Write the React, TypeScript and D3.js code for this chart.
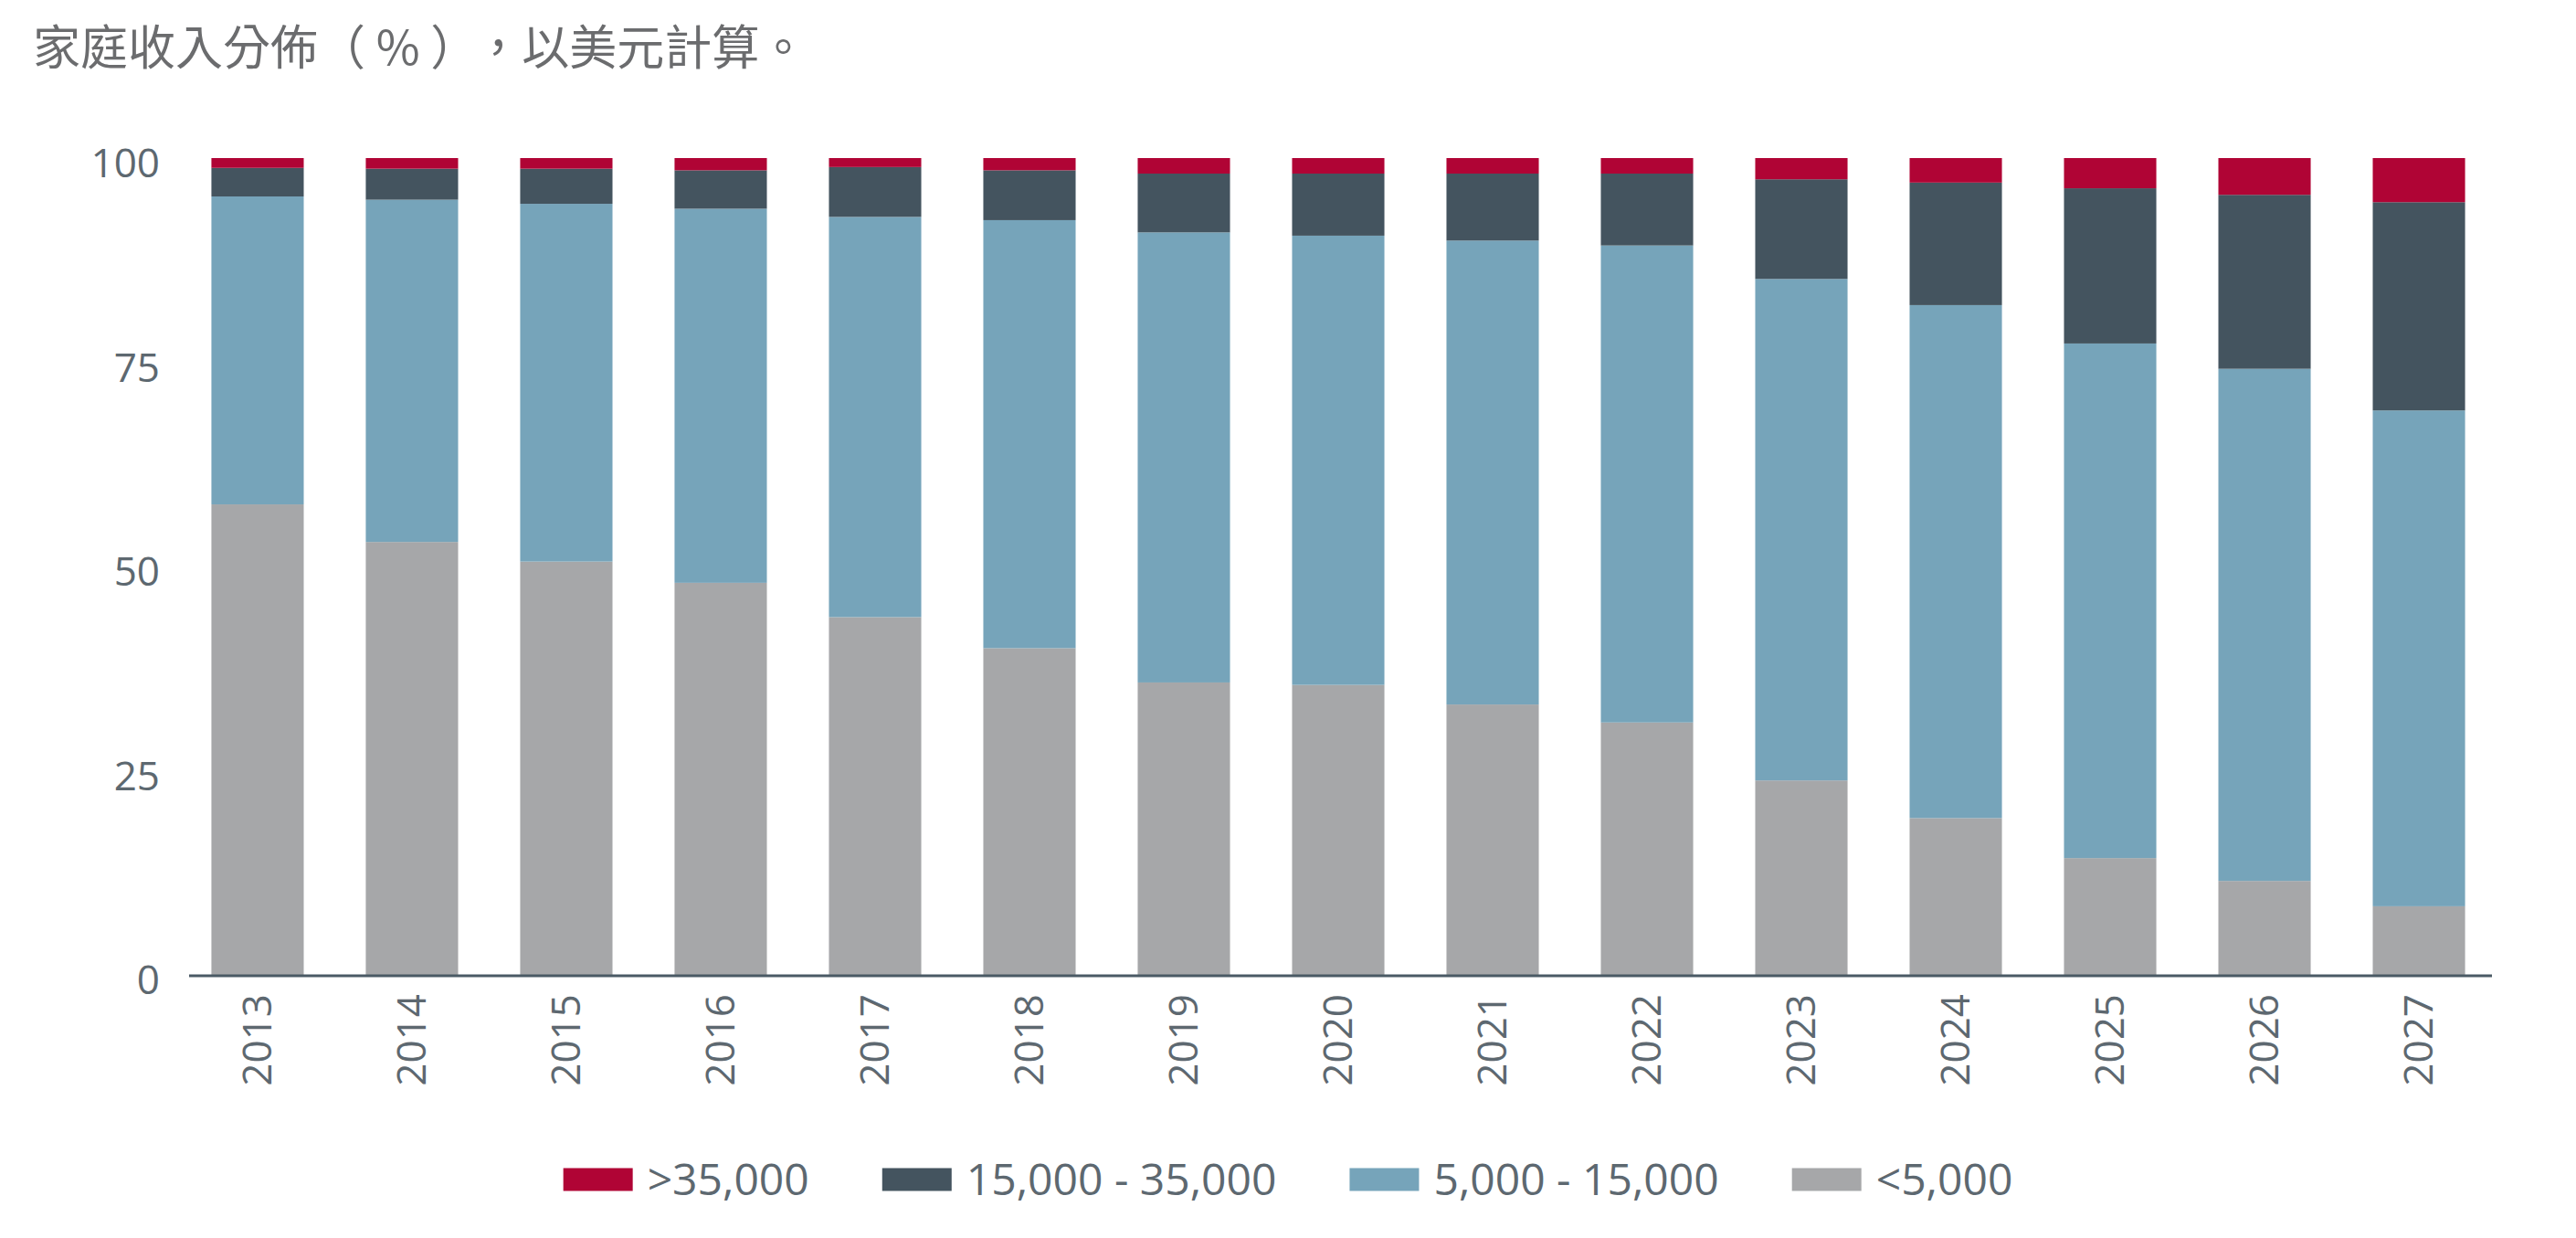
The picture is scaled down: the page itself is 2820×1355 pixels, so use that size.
import React, { useEffect, useRef } from "react";
import * as d3 from "d3";

const years = ["2013","2014","2015","2016","2017","2018","2019","2020","2021","2022","2023","2024","2025","2026","2027"];
const under5k = [57.6, 53.0, 50.6, 48.0, 43.8, 40.0, 35.8, 35.5, 33.1, 30.9, 23.8, 19.2, 14.3, 11.5, 8.4];
const from5to15k = [37.7, 41.9, 43.8, 45.8, 49.0, 52.4, 55.1, 55.0, 56.8, 58.4, 61.4, 62.8, 63.0, 62.7, 60.7];
const from15to35k = [3.5, 3.8, 4.3, 4.7, 6.1, 6.1, 7.2, 7.6, 8.2, 8.8, 12.2, 15.0, 19.0, 21.3, 25.5];
const over35k = [1.2, 1.3, 1.3, 1.5, 1.1, 1.5, 1.9, 1.9, 1.9, 1.9, 2.6, 3.0, 3.7, 4.5, 5.4];
const yTicks = [0, 25, 50, 75, 100];
const seriesKeys = ["lt5", "s5_15", "s15_35", "gt35"];
const seriesLabels = ["<5,000", "5,000 - 15,000", "15,000 - 35,000", ">35,000"];
const seriesColors = ["#a6a7a9", "#76a4ba", "#44545f", "#b00435"];
const legendOrder = [3, 2, 1, 0];
const titleParts = ["家庭收入分佈（ % ）", "，以美元計算。"];

const W = 2820, H = 1355;
const FONT = "'Open Sans', 'Noto Sans', sans-serif";
const TEXT = "#5d6870";

export default function App() {
  const ref = useRef<SVGSVGElement | null>(null);
  useEffect(() => {
    const svg = d3.select(ref.current);
    svg.selectAll("*").remove();

    const rows = years.map((y, i) => ({
      year: y,
      lt5: under5k[i],
      s5_15: from5to15k[i],
      s15_35: from15to35k[i],
      gt35: over35k[i],
    }));
    const stacked = d3.stack<any>().keys(seriesKeys)(rows);

    const x = d3.scaleBand().domain(years).range([200, 2730]).paddingInner(0.402).paddingOuter(0.186);
    const y = d3.scaleLinear().domain([0, 100]).range([1067, 173]);

    // title
    const tt = svg.append("text")
      .attr("x", 36).attr("y", 71)
      .attr("font-family", "'Noto Sans CJK TC', 'Noto Sans CJK SC', sans-serif")
      .attr("font-size", 52).attr("fill", "#6b6c6e");
    tt.append("tspan").text(titleParts[0]);
    tt.append("tspan").attr("dx", 22).text(titleParts[1]);

    // bars
    const g = svg.append("g");
    stacked.forEach((s, si) => {
      g.append("g").attr("fill", seriesColors[si])
        .selectAll("rect").data(s).join("rect")
        .attr("x", (d: any) => x(d.data.year)!)
        .attr("width", x.bandwidth())
        .attr("y", (d: any) => y(d[1]))
        .attr("height", (d: any) => y(d[0]) - y(d[1]));
    });

    // axis line
    svg.append("line")
      .attr("x1", 207).attr("x2", 2728)
      .attr("y1", y(0) + 1).attr("y2", y(0) + 1)
      .attr("stroke", "#4a5a65").attr("stroke-width", 3);

    // y ticks
    svg.append("g").selectAll("text").data(yTicks).join("text")
      .attr("x", 175).attr("y", (d) => y(d) + 6)
      .attr("dy", "0.35em")
      .attr("text-anchor", "end")
      .attr("font-family", FONT).attr("font-size", 44).attr("fill", TEXT)
      .text((d) => String(d));

    // x labels
    svg.append("g").selectAll("text").data(years).join("text")
      .attr("transform", (d) => `translate(${x(d)! + x.bandwidth() / 2},1088) rotate(-90)`)
      .attr("text-anchor", "end")
      .attr("dy", "0.35em")
      .attr("font-family", FONT).attr("font-size", 44).attr("fill", TEXT)
      .text((d) => d);

    // legend
    const lg = svg.append("g");
    const swW = 76, swH = 25, gap = 16, itemGap = 80;
    const items = legendOrder.map((si) => {
      const it = lg.append("g");
      it.append("rect").attr("width", swW).attr("height", swH).attr("y", -swH / 2).attr("fill", seriesColors[si]);
      const t = it.append("text").attr("x", swW + gap).attr("dy", "0.35em")
        .attr("font-family", FONT).attr("font-size", 48).attr("fill", TEXT)
        .text(seriesLabels[si]);
      const w = (t.node() as SVGTextElement).getComputedTextLength();
      return { it, w: swW + gap + w };
    });
    const total = d3.sum(items, (d) => d.w) + itemGap * (items.length - 1);
    let cx = W / 2 - total / 2;
    items.forEach((d) => {
      d.it.attr("transform", `translate(${cx},1291)`);
      cx += d.w + itemGap;
    });
  }, []);

  return (
    <svg ref={ref} width={W} height={H} style={{ position: "absolute", left: 0, top: 0, background: "#fff" }} />
  );
}
